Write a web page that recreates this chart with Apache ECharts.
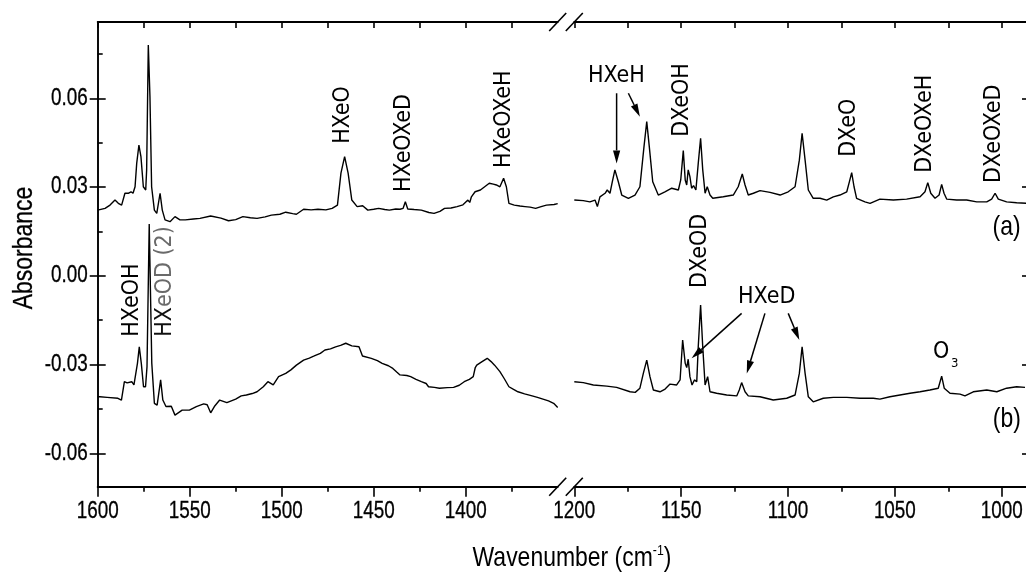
<!DOCTYPE html>
<html>
<head>
<meta charset="utf-8">
<script src="https://cdn.jsdelivr.net/npm/echarts@6/dist/echarts.min.js"></script>
<style>
  html, body { margin: 0; padding: 0; background: #fff; }
  #chart { width: 1026px; height: 572px; }
</style>
</head>
<body>
<div id="chart"></div>
<script>
// IR spectra, [wavenumber (cm-1), absorbance]; (a) upper trace, (b) lower trace
const traceA_high = [[1600,0.0222],[1596,0.0228],[1593.3,0.0239],[1590.6,0.0256],[1588.8,0.0245],[1587,0.0239],[1585.2,0.0279],[1584.3,0.0284],[1583.4,0.0279],[1581.9,0.0284],[1580.8,0.0279],[1579.7,0.0301],[1578.8,0.038],[1577.6,0.0442],[1576.5,0.0403],[1575.2,0.0301],[1573.9,0.029],[1573.4,0.0358],[1572.5,0.078],[1571.6,0.0605],[1570.7,0.0301],[1569.2,0.0222],[1567.9,0.0211],[1566.1,0.0279],[1564.9,0.0222],[1563.4,0.0189],[1560.7,0.0183],[1558,0.02],[1555.3,0.0189],[1552.4,0.0189],[1548,0.0192],[1544.4,0.0194],[1538.6,0.0202],[1533,0.0195],[1528.9,0.0186],[1525,0.019],[1521.1,0.02],[1517,0.0196],[1513.4,0.0194],[1509,0.0199],[1505.6,0.0205],[1501,0.0208],[1497.8,0.0215],[1494,0.021],[1492,0.0208],[1488.1,0.0225],[1484,0.0223],[1480.3,0.0225],[1476,0.0223],[1472.6,0.0228],[1469.7,0.0239],[1467.8,0.0347],[1465.8,0.0403],[1463.9,0.0347],[1461.9,0.0256],[1459,0.0234],[1456,0.0237],[1453.2,0.0222],[1450,0.0225],[1447.3,0.0228],[1444,0.0224],[1441.5,0.0222],[1438,0.0226],[1435.7,0.0225],[1434,0.0228],[1432.8,0.025],[1431.5,0.0226],[1428,0.0224],[1424.1,0.0222],[1420,0.0214],[1417.2,0.0211],[1414,0.0218],[1411.5,0.0228],[1408,0.0229],[1404.7,0.0234],[1401.5,0.024],[1398.8,0.0256],[1397.8,0.0248],[1396.9,0.0267],[1394.9,0.0284],[1392,0.029],[1389.5,0.0302],[1387.2,0.0313],[1385,0.031],[1383.3,0.0307],[1381.4,0.0301],[1379.4,0.033],[1377.9,0.0301],[1376.5,0.0245],[1373.6,0.0239],[1370.5,0.0236],[1367.8,0.0234],[1365,0.0232],[1362,0.0228],[1359,0.0234],[1356.1,0.0239],[1352,0.0241],[1350,0.0244]];

const traceB_high = [[1600,-0.0409],[1598.8,-0.0409],[1594.9,-0.0411],[1589,-0.0414],[1587.1,-0.042],[1585.5,-0.0358],[1584,-0.0362],[1583.2,-0.0363],[1581.5,-0.0358],[1580.3,-0.0369],[1579.7,-0.0369],[1578.4,-0.0296],[1577.4,-0.024],[1576.3,-0.0296],[1575.1,-0.0375],[1574,-0.0375],[1573.2,-0.0307],[1572,0.0175],[1570.6,-0.0296],[1569.2,-0.0431],[1567.7,-0.0437],[1565.8,-0.0352],[1564.6,-0.042],[1562.9,-0.0442],[1560,-0.0441],[1558,-0.0471],[1554.1,-0.0454],[1550.2,-0.0454],[1546.4,-0.0442],[1542.4,-0.0433],[1540.5,-0.0436],[1538.6,-0.0463],[1536.6,-0.0442],[1533.7,-0.042],[1529.8,-0.0429],[1525,-0.0417],[1522,-0.0406],[1519.2,-0.0403],[1516,-0.0398],[1513.4,-0.0392],[1510,-0.0375],[1507.5,-0.0358],[1504.6,-0.0369],[1501.7,-0.0341],[1497.8,-0.033],[1495,-0.0318],[1492,-0.0302],[1488.1,-0.0285],[1485,-0.0278],[1482.3,-0.0271],[1479,-0.0262],[1476.5,-0.0251],[1473.5,-0.0247],[1470.7,-0.024],[1468,-0.0235],[1465.2,-0.0228],[1461.9,-0.0237],[1458,-0.024],[1456.1,-0.0271],[1451.3,-0.0279],[1448,-0.0287],[1445.4,-0.0296],[1442,-0.0304],[1439.6,-0.0313],[1437.5,-0.0325],[1435.7,-0.0335],[1432,-0.0337],[1429.9,-0.0341],[1427,-0.035],[1424.1,-0.0358],[1421.5,-0.0364],[1420.2,-0.0375],[1417,-0.0377],[1414.3,-0.038],[1410,-0.0378],[1406.6,-0.0377],[1403.5,-0.037],[1400.8,-0.0358],[1398,-0.035],[1395.9,-0.0341],[1394.8,-0.031],[1394,-0.0302],[1391.1,-0.029],[1388.3,-0.0279],[1386.2,-0.029],[1384.3,-0.0302],[1381.4,-0.0324],[1379,-0.0348],[1376.5,-0.0375],[1374,-0.0384],[1371.6,-0.0392],[1368,-0.0399],[1363.9,-0.0406],[1361,-0.0411],[1358,-0.0417],[1355,-0.0423],[1352.2,-0.0431],[1350,-0.0445]];

const traceA_low = [[1200,0.0256],[1195.8,0.0254],[1192.7,0.025],[1190.3,0.0256],[1189.2,0.0234],[1188,0.0267],[1185.6,0.0279],[1184.6,0.029],[1183.3,0.0279],[1182.2,0.0318],[1181,0.0358],[1179.4,0.0318],[1177.8,0.0273],[1174.7,0.0262],[1171.6,0.0273],[1169.3,0.0301],[1167.4,0.0436],[1166.1,0.0521],[1164.9,0.0436],[1163.3,0.0318],[1160.7,0.0273],[1157.6,0.0284],[1154.4,0.0296],[1151.3,0.029],[1150.2,0.0324],[1149,0.0423],[1148.1,0.0324],[1147.4,0.0307],[1146.7,0.0358],[1145.9,0.0335],[1145.1,0.0296],[1144.2,0.0305],[1143.1,0.029],[1142,0.038],[1140.9,0.0465],[1139.9,0.0358],[1138.8,0.0279],[1137.8,0.0301],[1136.5,0.0273],[1135.2,0.0262],[1130.3,0.0267],[1125.6,0.0273],[1123.3,0.0301],[1121.4,0.0344],[1120.1,0.0307],[1118.6,0.0273],[1116.2,0.0279],[1113.1,0.0288],[1108.4,0.0282],[1103.7,0.0273],[1099.9,0.0284],[1096.7,0.0301],[1094.7,0.0391],[1093.4,0.0482],[1092,0.0391],[1090.5,0.029],[1088.2,0.0262],[1085,0.0262],[1081.9,0.0256],[1078.8,0.0267],[1075.7,0.0273],[1072.5,0.0284],[1071.2,0.032],[1070.2,0.0349],[1069.1,0.0301],[1067.9,0.0262],[1064,0.025],[1061.6,0.0245],[1057,0.0259],[1050.7,0.0256],[1044.5,0.0259],[1038.2,0.0267],[1035.9,0.0284],[1034.6,0.0315],[1033.2,0.0279],[1031.2,0.0262],[1029.3,0.0273],[1028.1,0.0309],[1027,0.0279],[1025.7,0.0259],[1021.1,0.0256],[1016.4,0.0256],[1011.7,0.025],[1007,0.025],[1004.7,0.0259],[1003.1,0.0279],[1001.6,0.0259],[997.7,0.025],[993,0.0247],[988.6,0.0245]];

const traceB_low = [[1200,-0.0358],[1195.8,-0.0361],[1191.1,-0.0369],[1184.8,-0.0373],[1180.2,-0.0377],[1173.9,-0.0392],[1171.5,-0.0394],[1169.3,-0.038],[1167.7,-0.033],[1166.1,-0.0285],[1164.6,-0.0341],[1163,-0.0386],[1159.9,-0.0392],[1157.5,-0.0383],[1155.2,-0.0366],[1152.1,-0.0369],[1150.5,-0.0352],[1149.3,-0.0217],[1148.1,-0.0296],[1147.4,-0.031],[1146.7,-0.0282],[1145.9,-0.0341],[1144.9,-0.0369],[1143.8,-0.0352],[1142.7,-0.0358],[1142,-0.024],[1140.9,-0.0099],[1139.9,-0.024],[1138.8,-0.0369],[1137.6,-0.0341],[1136.5,-0.0392],[1133.4,-0.0397],[1128.7,-0.0403],[1124,-0.0406],[1122.8,-0.0386],[1121.7,-0.0361],[1120.1,-0.0392],[1118.6,-0.0406],[1113.1,-0.0409],[1106.9,-0.042],[1100.6,-0.0414],[1096.7,-0.0403],[1094.7,-0.033],[1093.4,-0.024],[1092,-0.033],[1090.5,-0.0409],[1088.2,-0.0426],[1083.5,-0.0414],[1078.8,-0.0411],[1072.5,-0.0411],[1066.3,-0.0414],[1060.1,-0.0414],[1057,-0.0417],[1052.3,-0.0409],[1047.6,-0.0403],[1042.9,-0.0397],[1038.2,-0.0392],[1033.6,-0.0386],[1029.7,-0.038],[1028.1,-0.0339],[1026.9,-0.038],[1024.2,-0.0397],[1019.5,-0.04],[1017.2,-0.0406],[1013.3,-0.0392],[1007,-0.0386],[1002.3,-0.0392],[997.7,-0.038],[993,-0.0375],[989.1,-0.0377]];

// tick values
const xTicksHigh = [1600, 1550, 1500, 1450, 1400];
const xMinorHigh = [1575, 1525, 1475, 1425, 1375];
const xTicksLow = [1200, 1150, 1100, 1050, 1000];
const xMinorLow = [1175, 1125, 1075, 1025];
const yTicks = [-0.06, -0.03, 0, 0.03, 0.06];
const yMinor = [-0.045, -0.015, 0.015, 0.045, 0.075];

// band assignments (vertical text, anchored at the foot of the text)
const bandLabelsHigh = [
  { text: 'HXeO', wn: 1466.7, abs: 0.0446 },
  { text: 'HXeOXeD', wn: 1433.3, abs: 0.0283 },
  { text: 'HXeOXeH', wn: 1378.9, abs: 0.0364 },
  { text: 'HXeOH', wn: 1581.4, abs: -0.0206 },
  { text: '{k|HX}{g|eOD (2)}', wn: 1563.4, abs: -0.0206 }
];
const bandLabelsLow = [
  { text: 'DXeOH', wn: 1149.7, abs: 0.047 },
  { text: 'DXeOD', wn: 1141.2, abs: -0.0041 },
  { text: 'DXeO', wn: 1071.5, abs: 0.0402 },
  { text: 'DXeOXeH', wn: 1035.9, abs: 0.0348 },
  { text: 'DXeOXeD', wn: 1003.5, abs: 0.0314 }
];
// horizontal captions in the low-wavenumber panel
const captionsLow = [
  { text: 'HXeH', wn: 1180.3, abs: 0.0676, size: 23 },
  { text: 'HXeD', wn: 1110.0, abs: -0.0073, size: 23 },
  { text: '(a)', wn: 997.7, abs: 0.0165, size: 28, narrow: true },
  { text: '(b)', wn: 997.6, abs: -0.0484, size: 28, narrow: true }
];
const ozoneLabel = { wn: 1028.4, abs: -0.0256 };
// arrows [from, to] as [wavenumber, absorbance]
const arrowsLow = [
  [[1180.2, 0.0617], [1180.2, 0.0380]],
  [[1174.7, 0.0617], [1169.3, 0.0538]],
  [[1121.7, -0.0127], [1145.1, -0.0279]],
  [[1110.8, -0.0127], [1119.3, -0.0330]],
  [[1099.9, -0.0127], [1094.7, -0.0217]]
];

const Y_MIN = -0.07129, Y_MAX = 0.08579;
const SANS = '"Liberation Sans", Arial, sans-serif';   // squeezed horizontally for a narrow face
const SQUEEZE = 0.82;
const ANNOT = '"DejaVu Sans Condensed", "DejaVu Sans", sans-serif';
const black = '#000';

const chart = echarts.init(document.getElementById('chart'), null, { renderer: 'canvas' });

const lineStyleAxis = { color: black, width: 1.9 };
const lineStyleTick = { color: black, width: 1.6 };

function xAxesFor(gridIndex, min, max, major, minor) {
  const base = {
    type: 'value', gridIndex, min, max, inverse: true,
    splitLine: { show: false }, axisLabel: { show: false }
  };
  return [
    Object.assign({}, base, {
      position: 'bottom',
      axisLine: { show: true, onZero: false, lineStyle: lineStyleAxis },
      axisTick: { show: true, customValues: major, length: 10, lineStyle: lineStyleTick }
    }),
    Object.assign({}, base, {
      position: 'bottom',
      axisLine: { show: false, onZero: false },
      axisTick: { show: true, customValues: minor, length: 5, lineStyle: lineStyleTick }
    }),
    Object.assign({}, base, {
      position: 'top',
      axisLine: { show: true, onZero: false, lineStyle: lineStyleAxis },
      axisTick: { show: true, inside: true, customValues: major.concat(minor), length: 6, lineStyle: lineStyleTick }
    })
  ];
}

const yBase = { type: 'value', min: Y_MIN, max: Y_MAX, splitLine: { show: false }, axisLabel: { show: false } };

chart.setOption({
  animation: false,
  backgroundColor: '#fff',
  grid: [
    { left: 97.7, top: 22, width: 460, height: 464.7, outerBoundsMode: 'none', containLabel: false },
    { left: 574.3, top: 22, width: 453.7, height: 464.7, outerBoundsMode: 'none', containLabel: false }
  ],
  xAxis: [].concat(
    xAxesFor(0, 1350, 1600, xTicksHigh, xMinorHigh),
    xAxesFor(1, 987.7, 1200, xTicksLow, xMinorLow)
  ),
  yAxis: [
    Object.assign({}, yBase, {
      gridIndex: 0, position: 'left',
      axisLine: { show: true, onZero: false, lineStyle: lineStyleAxis },
      axisTick: { show: true, customValues: yTicks, length: 8, lineStyle: lineStyleTick }
    }),
    Object.assign({}, yBase, {
      gridIndex: 0, position: 'left', axisLine: { show: false, onZero: false },
      axisTick: { show: true, inside: true, customValues: yTicks, length: 8, lineStyle: lineStyleTick }
    }),
    Object.assign({}, yBase, {
      gridIndex: 0, position: 'left', axisLine: { show: false, onZero: false },
      axisTick: { show: true, inside: true, customValues: yMinor, length: 5, lineStyle: lineStyleTick }
    }),
    Object.assign({}, yBase, {
      gridIndex: 1, position: 'right',
      axisLine: { show: true, onZero: false, lineStyle: lineStyleAxis },
      axisTick: { show: true, inside: true, customValues: yTicks, length: 6, lineStyle: lineStyleTick }
    })
  ],
  series: [
    { data: traceA_high, xAxisIndex: 0, yAxisIndex: 0 },
    { data: traceB_high, xAxisIndex: 0, yAxisIndex: 0 },
    { data: traceA_low, xAxisIndex: 3, yAxisIndex: 3 },
    { data: traceB_low, xAxisIndex: 3, yAxisIndex: 3 }
  ].map(s => Object.assign({
    type: 'line', showSymbol: false, symbol: 'none', clip: true,
    lineStyle: { color: black, width: 1.4 }
  }, s))
});

// pixel helpers through each panel's scales
const toPx = (grid, wn, abs) => chart.convertToPixel({ gridIndex: grid }, [wn, abs]);

const graphics = [];

// tick labels in a narrow face
[[0, xTicksHigh], [1, xTicksLow]].forEach(([g, ticks]) => {
  ticks.forEach(v => {
    const p = toPx(g, v, Y_MIN);
    graphics.push({
      type: 'text', z: 50, x: p[0], y: p[1] + 24.5, scaleX: SQUEEZE,
      style: { text: String(v), fill: black, font: '23px ' + SANS, align: 'center', verticalAlign: 'middle', stroke: black, lineWidth: 0.3 }
    });
  });
});
yTicks.forEach(v => {
  const p = toPx(0, 1600, v);
  graphics.push({
    type: 'text', z: 50, x: p[0] - 10, y: p[1], scaleX: SQUEEZE,
    style: { text: v.toFixed(2), fill: black, font: '23px ' + SANS, align: 'right', verticalAlign: 'middle', stroke: black, lineWidth: 0.3 }
  });
});

// axis-break marks at both ends of the gap, on top and bottom axes
[[0, 1350], [1, 1200]].forEach(([g, wn]) => {
  [Y_MAX, Y_MIN].forEach(yv => {
    const p = toPx(g, wn, yv);
    graphics.push({
      type: 'line', silent: true, z: 100,
      shape: { x1: p[0] - 8.5, y1: p[1] + 9, x2: p[0] + 8.5, y2: p[1] - 9 },
      style: { stroke: black, lineWidth: 1.6 }
    });
  });
});

// vertical band labels
function addBand(grid, item) {
  const p = toPx(grid, item.wn, item.abs);
  graphics.push({
    type: 'text', z: 50, x: p[0], y: p[1], rotation: Math.PI / 2,
    style: {
      text: item.text, fill: black, font: '23px ' + ANNOT,
      align: 'left', verticalAlign: 'middle',
      rich: {
        k: { fill: '#111', fontSize: 23, fontFamily: ANNOT },
        g: { fill: '#6a6a6a', fontSize: 23, fontFamily: ANNOT }
      }
    }
  });
}
bandLabelsHigh.forEach(it => addBand(0, it));
bandLabelsLow.forEach(it => addBand(1, it));

captionsLow.forEach(it => {
  const p = toPx(1, it.wn, it.abs);
  graphics.push({
    type: 'text', z: 50, x: p[0], y: p[1], scaleX: it.narrow ? SQUEEZE : 1,
    style: {
      text: it.text, fill: black, font: it.size + 'px ' + (it.narrow ? SANS : ANNOT),
      align: 'center', verticalAlign: 'middle'
    }
  });
});

// O3 with subscript
(function () {
  const p = toPx(1, ozoneLabel.wn, ozoneLabel.abs);
  graphics.push({
    type: 'text', z: 50, x: p[0], y: p[1],
    style: { text: 'O', fill: black, font: '23px ' + ANNOT, align: 'center', verticalAlign: 'middle' }
  });
  graphics.push({
    type: 'text', z: 50, x: p[0] + 10, y: p[1] + 12,
    style: { text: '3', fill: black, font: '13px ' + ANNOT, align: 'left', verticalAlign: 'middle' }
  });
})();

// arrows
arrowsLow.forEach(([a, b]) => {
  const p1 = toPx(1, a[0], a[1]);
  const p2 = toPx(1, b[0], b[1]);
  const dx = p2[0] - p1[0], dy = p2[1] - p1[1];
  const len = Math.hypot(dx, dy), ux = dx / len, uy = dy / len;
  const headL = 13, headW = 3.6;
  const bx = p2[0] - ux * headL, by = p2[1] - uy * headL;
  graphics.push({
    type: 'line', z: 60, silent: true,
    shape: { x1: p1[0], y1: p1[1], x2: bx, y2: by },
    style: { stroke: black, lineWidth: 1.5 }
  });
  graphics.push({
    type: 'polygon', z: 60, silent: true,
    shape: { points: [[p2[0], p2[1]], [bx - uy * headW, by + ux * headW], [bx + uy * headW, by - ux * headW]] },
    style: { fill: black }
  });
});

// axis titles
graphics.push({
  type: 'text', z: 50, x: 24, y: 248, rotation: Math.PI / 2, scaleX: SQUEEZE,
  style: { text: 'Absorbance', fill: black, font: '28px ' + SANS, align: 'center', verticalAlign: 'middle', stroke: black, lineWidth: 0.3 }
});
graphics.push({
  type: 'text', z: 50, x: 572, y: 558, scaleX: SQUEEZE,
  style: {
    text: '{t|Wavenumber (cm}{s|-1}{t|)}', align: 'center', verticalAlign: 'middle',
    rich: {
      t: { fill: black, fontSize: 28, fontFamily: SANS, lineHeight: 30, textStroke: black, textStrokeWidth: 0.3 },
      s: { fill: black, fontSize: 15, fontFamily: SANS, verticalAlign: 'top', lineHeight: 30 }
    }
  }
});

chart.setOption({ graphic: graphics });
</script>
</body>
</html>
